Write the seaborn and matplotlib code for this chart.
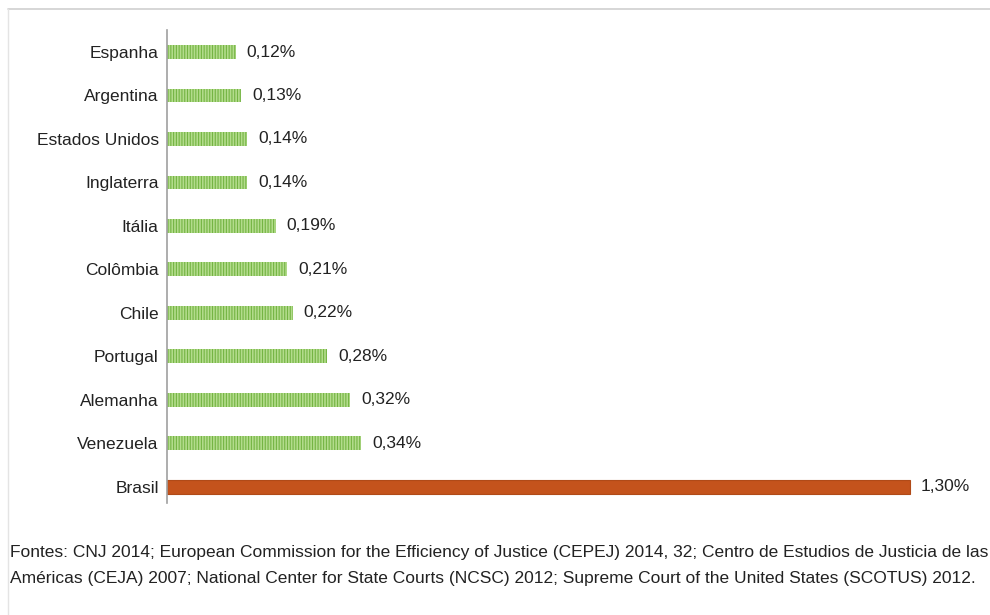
import matplotlib
matplotlib.use("Agg")
import matplotlib.pyplot as plt
import seaborn as sns
import pandas as pd
from matplotlib.lines import Line2D

countries = ["Espanha", "Argentina", "Estados Unidos", "Inglaterra", "Itália",
             "Colômbia", "Chile", "Portugal", "Alemanha", "Venezuela", "Brasil"]
values = [0.12, 0.13, 0.14, 0.14, 0.19, 0.21, 0.22, 0.28, 0.32, 0.34, 1.30]
labels = ["0,12%", "0,13%", "0,14%", "0,14%", "0,19%", "0,21%", "0,22%",
          "0,28%", "0,32%", "0,34%", "1,30%"]
footer_lines = [
    "Fontes: CNJ 2014; European Commission for the Efficiency of Justice (CEPEJ) 2014, 32; "
    "Centro de Estudios de Justicia de las",
    "Américas (CEJA) 2007; National Center for State Courts (NCSC) 2012; "
    "Supreme Court of the United States (SCOTUS) 2012.",
]

sns.set_theme(style="white")
plt.rcParams["font.family"] = ["Liberation Sans", "DejaVu Sans"]
plt.rcParams["hatch.linewidth"] = 0.8

df = pd.DataFrame({"country": countries, "value": values})
green_face = "#B3DC8C"
green_hatch = "#74B443"
orange = "#C4531C"
palette = {c: (orange if c == "Brasil" else green_face) for c in countries}

fig = plt.figure(figsize=(9.9, 6.15), dpi=100)
ax = fig.add_axes([167/990, 1-503/615, (961-167)/990, (503-30)/615])
sns.barplot(data=df, x="value", y="country", hue="country", palette=palette,
            legend=False, width=0.32, orient="h", ax=ax, saturation=1)

for p, c in zip(ax.patches, countries):
    if c != "Brasil":
        p.set_hatch("||||||")
        p.set_edgecolor(green_hatch)
        p.set_linewidth(0)
    else:
        p.set_edgecolor("#B04A18")
        p.set_linewidth(0.8)

ax.set_xlim(0, 1.39)
ax.set_ylim(10.37, -0.506)
for i, (v, lab) in enumerate(zip(values, labels)):
    ax.annotate(lab, (v, i), xytext=(8, 0), textcoords="offset points",
                va="center", ha="left", fontsize=12.5, color="#222222")

ax.set_xlabel("")
ax.set_ylabel("")
ax.set_xticks([])
ax.tick_params(axis="y", length=0, pad=6, labelsize=12.5, labelcolor="#222222")
for s in ["top", "right", "bottom"]:
    ax.spines[s].set_visible(False)
ax.spines["left"].set_color("#A0A0A0")
ax.spines["left"].set_linewidth(1.2)

# light frame (top and left edges)
fig.add_artist(Line2D([8/990, 1], [1-9/615, 1-9/615], transform=fig.transFigure,
                      color="#D0D0D0", linewidth=1.2))
fig.add_artist(Line2D([8/990, 8/990], [0, 1-9/615], transform=fig.transFigure,
                      color="#E4E4E4", linewidth=1.0))

# footer, sized so the first line spans the reference width
renderer = fig.canvas.get_renderer()
t1 = fig.text(10/990, 1-552/615, footer_lines[0], ha="left", va="center",
              fontsize=12, color="#222222")
w = t1.get_window_extent(renderer).width
fs = 12 * 975 / w
t1.set_fontsize(fs)
fig.text(10/990, 1-578/615, footer_lines[1], ha="left", va="center",
         fontsize=fs, color="#222222")

fig.savefig("out.png", dpi=100)
